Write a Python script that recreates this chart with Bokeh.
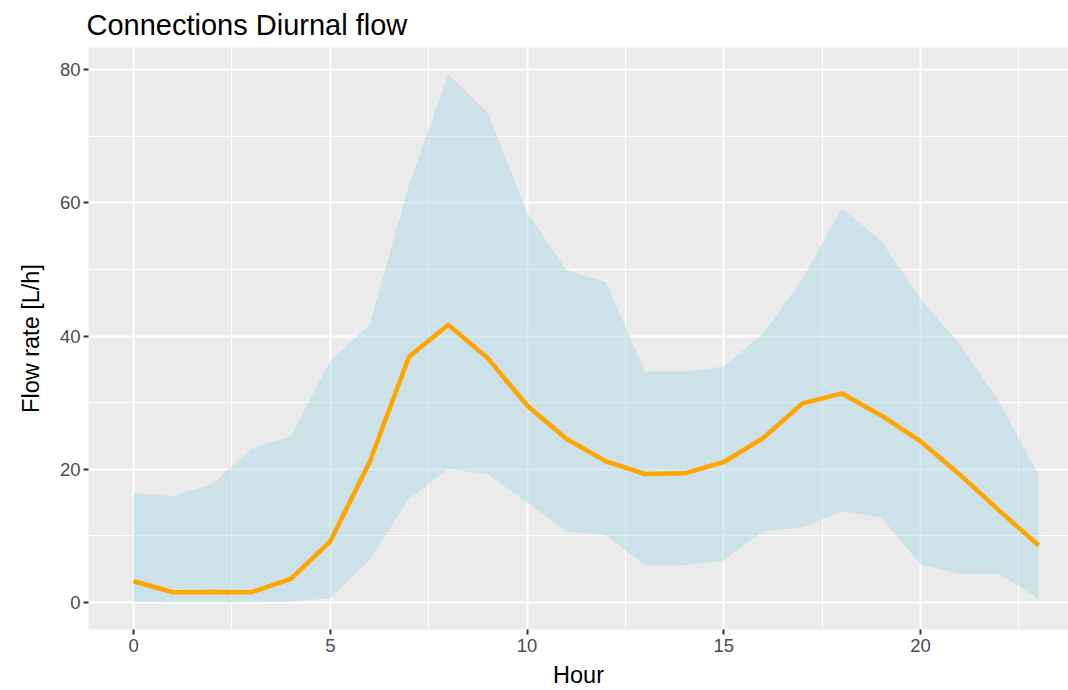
from bokeh.plotting import figure
from bokeh.models import SingleIntervalTicker, Range1d
from bokeh.embed import file_html
from bokeh.resources import INLINE

hours = list(range(24))
mean_flow = [3.2, 1.55, 1.6, 1.55, 3.55, 9.2, 21.1, 36.9, 41.7, 36.7, 29.6, 24.6,
             21.2, 19.3, 19.4, 21.1, 24.7, 29.9, 31.4, 28.1, 24.2, 19.2, 13.8, 8.6]
upper_flow = [16.4, 16.0, 17.8, 23.1, 25.0, 36.3, 41.7, 62.7, 79.3, 73.6, 58.6, 49.9,
              48.1, 34.7, 34.7, 35.4, 40.4, 48.6, 59.2, 54.3, 45.6, 38.8, 30.1, 19.2]
lower_flow = [0.1, 0.05, 0.05, 0.05, 0.1, 0.65, 6.4, 15.6, 20.0, 19.3, 15.0, 10.7,
              10.1, 5.6, 5.6, 6.3, 10.7, 11.3, 13.7, 12.8, 5.7, 4.3, 4.3, 0.55]

FONT = "Liberation Sans"

p = figure(width=1068, height=690, output_backend="svg", toolbar_location=None,
           x_range=Range1d(-1.145, 23.76), y_range=Range1d(-4.05, 83.35),
           title="Connections Diurnal flow",
           min_border_left=88, min_border_right=0, min_border_top=0, min_border_bottom=0)

p.background_fill_color = "#EBEBEB"
p.border_fill_color = "white"
p.outline_line_color = None

p.title.text_font = FONT
p.title.text_font_size = "29px"
p.title.text_font_style = "normal"
p.title.text_color = "black"
p.title.align = "left"
p.title.offset = -2
p.title.standoff = 13

p.varea(x=hours, y1=lower_flow, y2=upper_flow, fill_color="#ADD8E6", fill_alpha=0.5)
p.line(x=hours, y=mean_flow, line_color="#FFA500", line_width=4.5)

p.xaxis.ticker = SingleIntervalTicker(interval=5, num_minor_ticks=2)
p.yaxis.ticker = SingleIntervalTicker(interval=20, num_minor_ticks=2)

for ax in (p.xaxis, p.yaxis):
    ax.axis_line_color = None
    ax.major_tick_line_color = "#333333"
    ax.major_tick_line_width = 2
    ax.major_tick_out = 5
    ax.major_tick_in = 0
    ax.minor_tick_out = 0
    ax.minor_tick_in = 0
    ax.major_label_text_font = FONT
    ax.major_label_text_font_size = "18.5px"
    ax.major_label_text_color = "#4D4D4D"
    ax.axis_label_text_font = FONT
    ax.axis_label_text_font_size = "23.5px"
    ax.axis_label_text_font_style = "normal"
    ax.axis_label_text_color = "black"
    ax.major_label_standoff = 3

p.xaxis.major_label_standoff = 4
p.xaxis.axis_label_standoff = 7
p.yaxis.axis_label_standoff = 13

p.xaxis.axis_label = "Hour"
p.yaxis.axis_label = "Flow rate [L/h]"

for g in (p.xgrid, p.ygrid):
    g.grid_line_color = "white"
    g.grid_line_width = 2
    g.minor_grid_line_color = "white"
    g.minor_grid_line_width = 1

open("out.html", "w").write(file_html(p, INLINE))
